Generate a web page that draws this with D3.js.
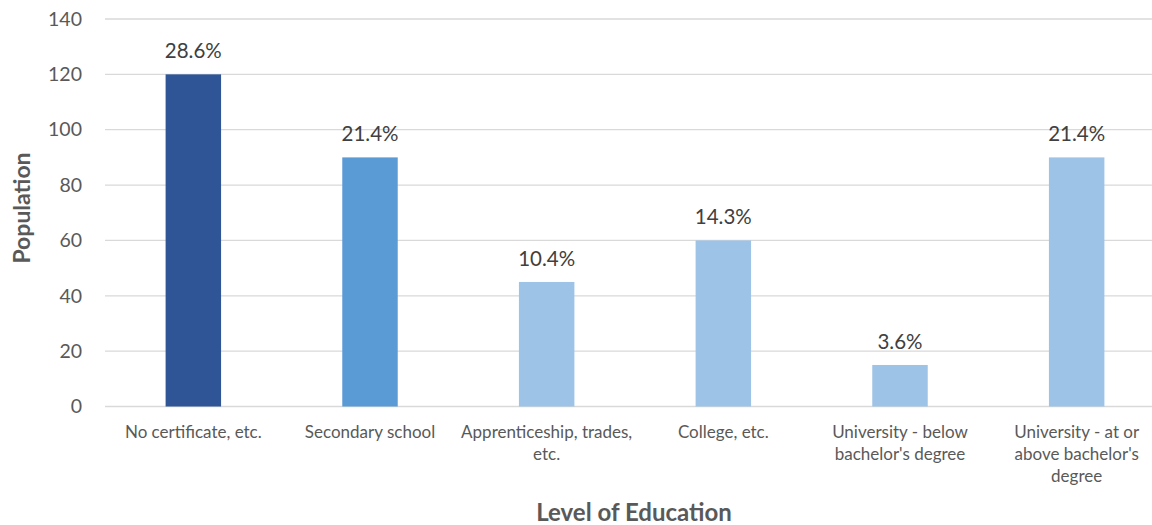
<!DOCTYPE html>
<html>
<head>
<meta charset="utf-8">
<script src="https://cdn.jsdelivr.net/npm/d3@7"></script>
<style>
  html, body { margin: 0; padding: 0; background: #fff; }
  svg { display: block; font-family: Lato, "Open Sans", sans-serif; }
</style>
</head>
<body>
<svg id="chart" width="1152" height="525"></svg>
<script>
// Population by highest level of education
const categories = [
  "No certificate, etc.",
  "Secondary school",
  "Apprenticeship, trades, etc.",
  "College, etc.",
  "University - below bachelor's degree",
  "University - at or above bachelor's degree"
];
// Category label lines as they wrap under each bar
const categoryLines = [
  ["No certificate, etc."],
  ["Secondary school"],
  ["Apprenticeship, trades,", "etc."],
  ["College, etc."],
  ["University - below", "bachelor's degree"],
  ["University - at or", "above bachelor's", "degree"]
];
const population = [120, 90, 45, 60, 15, 90];
const shares = ["28.6%", "21.4%", "10.4%", "14.3%", "3.6%", "21.4%"];
const barColors = ["#2F5597", "#5B9BD5", "#9DC3E6", "#9DC3E6", "#9DC3E6", "#9DC3E6"];
const yTicks = [0, 20, 40, 60, 80, 100, 120, 140];

const svg = d3.select("#chart");
const plot = { left: 105, right: 1165, top: 19, bottom: 406.5 };

const x = d3.scaleBand()
  .domain(categories)
  .range([plot.left, plot.right])
  .paddingInner(0.686)
  .paddingOuter(0.343);

const y = d3.scaleLinear()
  .domain([0, 140])
  .range([plot.bottom, plot.top]);

// Horizontal gridlines
svg.append("g")
  .selectAll("line")
  .data(yTicks)
  .join("line")
  .attr("x1", plot.left)
  .attr("x2", plot.right)
  .attr("y1", d => y(d))
  .attr("y2", d => y(d))
  .attr("stroke", "#d9d9d9")
  .attr("stroke-width", 1.3);

// Y axis tick labels
const yAxis = svg.append("g")
  .attr("transform", `translate(${plot.left - 23},0)`)
  .call(d3.axisLeft(y).tickValues(yTicks).tickSize(0).tickPadding(0));
yAxis.select(".domain").remove();
yAxis.selectAll("text")
  .attr("fill", "#595959")
  .style("font-size", "19.5px")
  .style("font-family", "Lato, 'Open Sans', sans-serif");

// Bars
svg.append("g")
  .selectAll("rect")
  .data(categories)
  .join("rect")
  .attr("x", d => x(d))
  .attr("width", x.bandwidth())
  .attr("y", (d, i) => y(population[i]))
  .attr("height", (d, i) => y(0) - y(population[i]))
  .attr("fill", (d, i) => barColors[i]);

// Share labels above bars
svg.append("g")
  .selectAll("text")
  .data(categories)
  .join("text")
  .attr("x", d => x(d) + x.bandwidth() / 2)
  .attr("y", (d, i) => y(population[i]) - 16)
  .attr("text-anchor", "middle")
  .attr("fill", "#404040")
  .style("font-size", "20.5px")
  .text((d, i) => shares[i]);

// X axis category labels
const xAxis = svg.append("g")
  .attr("transform", `translate(0,${plot.bottom})`)
  .call(d3.axisBottom(x).tickSize(0).tickFormat(""));
xAxis.select(".domain").remove();
xAxis.selectAll(".tick").each(function(d, i) {
  const t = d3.select(this).append("text")
    .attr("text-anchor", "middle")
    .attr("fill", "#595959")
    .style("font-size", "17px")
    .style("font-family", "Lato, 'Open Sans', sans-serif");
  categoryLines[i].forEach((line, j) => {
    t.append("tspan")
      .attr("x", 0)
      .attr("y", 31 + j * 22)
      .text(line);
  });
});

// Axis titles
svg.append("text")
  .attr("x", 634)
  .attr("y", 521)
  .attr("text-anchor", "middle")
  .attr("fill", "#595959")
  .style("font-size", "24px")
  .style("font-weight", "bold")
  .text("Level of Education");

svg.append("text")
  .attr("transform", "translate(30,208) rotate(-90)")
  .attr("text-anchor", "middle")
  .attr("fill", "#595959")
  .style("font-size", "23px")
  .style("font-weight", "bold")
  .text("Population");
</script>
</body>
</html>
